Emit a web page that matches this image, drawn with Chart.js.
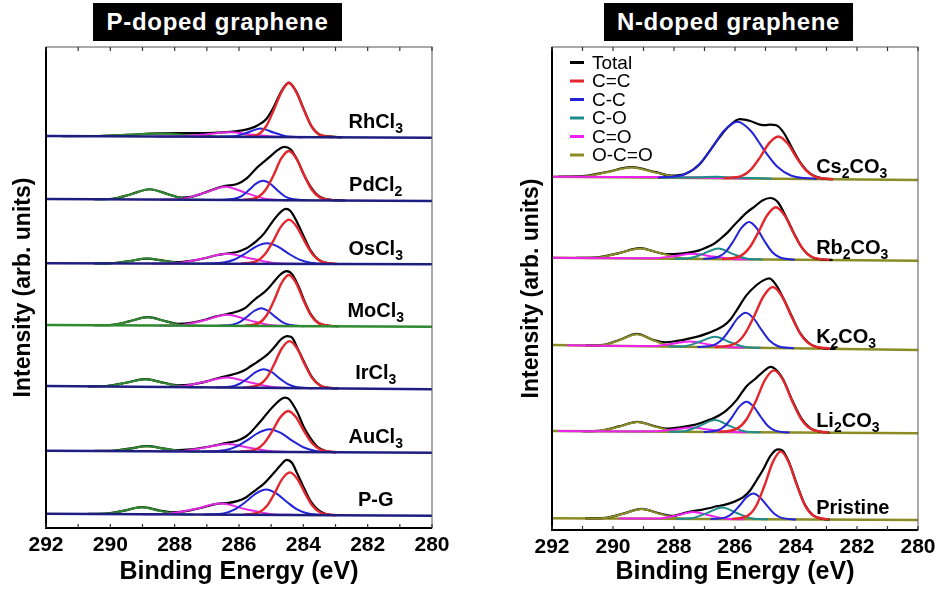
<!DOCTYPE html>
<html>
<head>
<meta charset="utf-8">
<script src="https://cdn.jsdelivr.net/npm/chart.js@4.4.1/dist/chart.umd.min.js"></script>
<style>
  body { margin: 0; background: #fff; width: 950px; height: 602px; position: relative; overflow: hidden; }
  canvas { position: absolute; top: 0; }
  #pChart { left: 0; }
  #nChart { left: 475px; }
  .panel-title {
    position: absolute; top: 3px; height: 38px; width: 249px; z-index: 2;
    background: #000; color: #fff; text-align: center;
    font: bold 24px 'Liberation Sans', Arial, sans-serif; line-height: 38px; letter-spacing: 0.7px;
  }
</style>
</head>
<body>
<canvas id="pChart" width="475" height="602"></canvas>
<canvas id="nChart" width="475" height="602"></canvas>
<div class="panel-title" style="left:93px">P-doped graphene</div>
<div class="panel-title" style="left:604px">N-doped graphene</div>
<script>
// ---- Data: [binding energy (eV), intensity above the spectrum's own baseline] ----

// P-doped graphene (left panel), top to bottom
const pSamples = ['RhCl_3', 'PdCl_2', 'OsCl_3', 'MoCl_3', 'IrCl_3', 'AuCl_3', 'P-G'];
const pBaseLeft = [392, 329, 264.7, 203, 142, 77.3, 14.3];   // stack offset at 292 eV
const pBaseRight = [390.3, 327, 263.7, 201.3, 138.7, 75.3, 12.3]; // stack offset at 280 eV

const rhTotal = [[291.5,0],[290.5,0.2],[289.5,1.5],[288.5,3.1],[287.5,3.5],[286.8,3.9],[286.27,5],[285.9,6.5],[285.64,8.5],[285.4,12],[285.15,18],[284.92,30],[284.68,46],[284.45,54.5],[284.22,45.5],[283.98,27.5],[283.75,11],[283.52,3],[283.2,0.8],[282.8,0]];
const rhSp2 = [[285.85,0],[285.38,3],[285.15,11],[284.92,27],[284.68,45],[284.45,54],[284.22,45],[283.98,27],[283.75,11],[283.52,3],[283.05,0]];
const rhSp3 = [[286.6,0],[286.18,0.5],[285.75,4.2],[285.33,8.5],[284.9,4.2],[284.48,0.5],[284.05,0]];
const rhCdO = [[288.6,0],[287.8,0.3],[287.05,2.2],[286.3,4.5],[285.55,2.2],[284.8,0.3],[284.0,0]];
const rhOCO = [[291.5,0],[290.5,0.2],[289.5,1.5],[288.5,3],[287.5,1.5],[286.5,0.2],[285.5,0]];

const pdTotal = [[290.5,0],[289.93,0.6],[289.36,5.2],[288.78,10.3],[288.2,5.4],[287.8,2.2],[287.5,2.8],[287.1,6.8],[286.7,11.5],[286.42,14],[286.06,16],[285.75,22],[285.44,32.5],[285.22,38.5],[285.02,44],[284.8,50],[284.59,53.3],[284.4,51],[284.19,40.5],[283.98,25.5],[283.78,14],[283.55,5],[283.3,1.5],[283.0,0.3],[282.7,0]];
const pdSp2 = [[285.89,0],[285.41,3],[285.17,10.4],[284.93,24.7],[284.69,41.5],[284.45,49.3],[284.21,41.5],[283.97,24.7],[283.73,10.4],[283.49,3],[283.01,0]];
const pdSp3 = [[286.6,0],[286.15,1.2],[285.92,4],[285.7,9.7],[285.48,16.2],[285.25,19.3],[285.02,16.2],[284.8,9.7],[284.58,4],[284.35,1.2],[283.9,0]];
const pdCdO = [[288.45,0],[287.77,0.8],[287.1,6.7],[286.42,13.3],[285.75,6.7],[285.07,0.8],[284.4,0]];
const pdOCO = [[290.5,0],[289.93,0.6],[289.36,5.2],[288.78,10.3],[288.2,5.2],[287.63,0.6],[287.05,0]];

const osTotal = [[290.5,0],[289.96,0.3],[289.41,2.5],[288.86,5],[288.31,2.8],[287.9,1.5],[287.5,2.8],[287.0,6],[286.7,8.5],[286.37,10.3],[286.06,11.8],[285.8,15],[285.64,18.3],[285.45,23],[285.23,30],[285.05,38],[284.87,46],[284.7,52],[284.55,55],[284.4,53],[284.19,41.5],[283.95,25],[283.78,14],[283.55,5],[283.3,1.2],[283.0,0]];
const osSp2 = [[285.95,0],[285.45,2.7],[285.2,9.3],[284.95,22],[284.7,37],[284.45,44.3],[284.2,37],[283.95,22],[283.7,9.3],[283.45,2.7],[282.95,0]];
const osSp3 = [[287.15,0],[286.48,1.2],[286.14,4.3],[285.8,10.3],[285.47,17.3],[285.13,20.6],[284.79,17.3],[284.46,10.3],[284.12,4.3],[283.78,1.2],[283.1,0]];
const osCdO = [[288.7,0],[287.92,0.6],[287.15,5],[286.37,10],[285.6,5],[284.82,0.6],[284.05,0]];
const osOCO = [[290.5,0],[289.96,0.3],[289.41,2.5],[288.86,5],[288.31,2.5],[287.76,0.3],[287.2,0]];

const moTotal = [[290.5,0],[289.94,0.5],[289.39,4.2],[288.84,8.3],[288.29,4.4],[287.9,1.8],[287.5,2.8],[287.0,6.5],[286.7,9.5],[286.37,11.7],[286.06,14.3],[285.8,18],[285.64,22.7],[285.45,28],[285.23,33.3],[285.05,39],[284.87,46],[284.7,52],[284.52,55],[284.35,52],[284.15,40],[283.95,24],[283.76,11.5],[283.53,3.3],[283.2,0.5],[282.9,0]];
const moSp2 = [[285.83,0],[285.37,3.1],[285.14,10.7],[284.91,25.5],[284.68,42.8],[284.45,51],[284.22,42.8],[283.99,25.5],[283.76,10.7],[283.53,3.1],[283.07,0]];
const moSp3 = [[286.66,0],[286.21,1.1],[285.98,3.7],[285.76,8.9],[285.53,14.9],[285.31,17.7],[285.09,14.9],[284.86,8.9],[284.64,3.7],[284.41,1.1],[283.96,0]];
const moCdO = [[288.47,0],[287.77,0.7],[287.07,5.5],[286.37,11],[285.67,5.5],[284.97,0.7],[284.27,0]];
const moOCO = [[290.5,0],[289.94,0.5],[289.39,4.2],[288.84,8.3],[288.29,4.2],[287.74,0.5],[287.2,0]];

const irTotal = [[290.7,0],[290.12,0.5],[289.52,3.9],[288.92,7.7],[288.32,4.1],[287.9,1.8],[287.5,2.6],[287.0,6],[286.7,9],[286.37,11.7],[286.06,14.3],[285.8,18],[285.64,21.5],[285.45,25.5],[285.23,30.5],[285.05,35.5],[284.87,42],[284.7,48.5],[284.5,52],[284.35,50.5],[284.19,40.5],[283.95,24.5],[283.72,10.7],[283.48,3],[283.2,0.6],[282.9,0]];
const irSp2 = [[285.86,0],[285.38,2.9],[285.14,9.9],[284.91,23.5],[284.67,39.5],[284.43,47],[284.19,39.5],[283.95,23.5],[283.72,9.9],[283.48,2.9],[283.0,0]];
const irSp3 = [[286.73,0],[286.23,1.1],[285.98,3.9],[285.73,9.4],[285.48,15.7],[285.23,18.7],[284.98,15.7],[284.73,9.4],[284.48,3.9],[284.23,1.1],[283.73,0]];
const irCdO = [[288.6,0],[287.87,0.6],[287.12,5],[286.37,10],[285.62,5],[284.87,0.6],[284.1,0]];
const irOCO = [[290.7,0],[290.12,0.5],[289.52,3.9],[288.92,7.7],[288.32,3.9],[287.72,0.5],[287.1,0]];

const auTotal = [[290.5,0],[289.96,0.3],[289.41,2.5],[288.86,5],[288.31,2.7],[287.9,1.2],[287.5,2],[287.0,4.5],[286.7,6.5],[286.37,8.7],[286.06,11],[285.8,15],[285.64,19.3],[285.45,26],[285.23,34.3],[285.05,41.5],[284.87,47.7],[284.7,52.5],[284.58,54.3],[284.45,53],[284.19,40],[283.97,24],[283.78,14],[283.55,5],[283.3,1],[283.0,0]];
const auSp2 = [[285.97,0],[285.47,2.5],[285.22,8.6],[284.97,20.5],[284.72,34.4],[284.47,41],[284.22,34.4],[283.97,20.5],[283.72,8.6],[283.47,2.5],[282.97,0]];
const auSp3 = [[287.15,0],[286.45,1.4],[286.1,4.8],[285.75,11.4],[285.4,19],[285.05,22.7],[284.7,19],[284.35,11.4],[284.0,4.8],[283.65,1.4],[282.95,0]];
const auCdO = [[288.47,0],[287.77,0.5],[287.07,3.9],[286.37,7.7],[285.67,3.9],[284.97,0.5],[284.27,0]];
const auOCO = [[290.5,0],[289.96,0.3],[289.41,2.5],[288.86,5],[288.31,2.5],[287.76,0.3],[287.2,0]];

const pgTotal = [[290.7,0],[290.12,0.4],[289.57,3.5],[289.02,7],[288.47,3.8],[288.1,2],[287.7,3],[287.2,6.5],[286.8,10],[286.58,11.2],[286.37,11.6],[286.06,13.6],[285.8,17],[285.64,21],[285.45,25.5],[285.23,31],[285.05,37],[284.87,43.6],[284.7,50],[284.52,55],[284.35,52],[284.19,41.5],[283.95,25],[283.78,14.3],[283.55,5.5],[283.3,1],[283.0,0]];
const pgSp2 = [[285.85,0],[285.37,2.6],[285.13,9],[284.9,21.3],[284.66,35.8],[284.42,42.6],[284.18,35.8],[283.94,21.3],[283.71,9],[283.47,2.6],[282.99,0]];
const pgSp3 = [[287.1,0],[286.45,1.5],[286.13,5.3],[285.8,12.7],[285.48,21.2],[285.15,25.3],[284.83,21.2],[284.5,12.7],[284.18,5.3],[283.85,1.5],[283.2,0]];
const pgCdO = [[289.0,0],[288.18,0.7],[287.38,5.5],[286.58,11],[285.78,5.5],[284.98,0.7],[284.2,0]];
const pgOCO = [[290.7,0],[290.12,0.4],[289.57,3.5],[289.02,7],[288.47,3.5],[287.92,0.4],[287.4,0]];

// N-doped graphene (right panel), top to bottom
const nSamples = ['Cs_2CO_3', 'Rb_2CO_3', 'K_2CO_3', 'Li_2CO_3', 'Pristine'];
const nBaseLeft = [353.3, 272.3, 185, 99, 11.7];
const nBaseRight = [350, 269.3, 180, 96.7, 10];
const nLegend = ['Total', 'C=C', 'C-C', 'C-O', 'C=O', 'O-C=O'];

const csTotal = [[291.8,0],[291,0.8],[290.2,5.2],[289.4,10.2],[288.6,5.5],[288.1,2.2],[287.6,4.5],[287.15,14],[286.8,28.5],[286.49,41.6],[286.2,52],[285.84,59.3],[285.5,57.5],[285.18,54],[285.0,53.5],[284.85,54],[284.65,53.5],[284.4,46],[284.1,29],[283.85,16],[283.65,8.5],[283.4,3],[283.1,0.5],[282.8,0]];
const csSp2 = [[286.38,0],[285.78,2.5],[285.48,8.9],[285.18,21.2],[284.88,35.5],[284.58,42.3],[284.28,35.5],[283.98,21.2],[283.68,8.9],[283.38,2.5],[282.78,0]];
const csSp3 = [[288.52,0],[287.67,3.4],[287.23,11.9],[286.8,28.3],[286.36,47.5],[285.92,56.6],[285.48,47.5],[285.04,28.3],[284.61,11.9],[284.17,3.4],[283.32,0]];
const csCO = [[288.4,0],[287.2,0.75],[286.6,1.5],[286.0,0.75],[284.8,0]];
const csCdO = [[292,0],[290,0.3],[288.5,0.6],[287,0.3],[285.5,0]];
const csOCO = [[291.8,0],[290.99,0.6],[290.19,5],[289.39,10],[288.59,5],[287.79,0.6],[287.0,0]];

const rbTotal = [[291.2,0],[290.5,0.8],[289.8,5.2],[289.11,10.3],[288.6,6.5],[288.24,4.5],[287.9,4.8],[287.58,6],[287.2,8.3],[286.93,11.6],[286.7,15],[286.49,20],[286.25,26.5],[286.06,33],[285.84,40],[285.62,46.6],[285.35,53],[285.1,59],[284.85,61.5],[284.6,57.5],[284.3,41],[284.07,26.5],[283.87,15],[283.65,6.5],[283.43,2],[283.1,0.3],[282.8,0]];
const rbSp2 = [[286.42,0],[285.83,3.1],[285.54,11],[285.25,26.2],[284.95,44],[284.66,52.3],[284.37,44],[284.07,26.2],[283.78,11],[283.49,3.1],[282.9,0]];
const rbSp3 = [[287.04,0],[286.54,2.3],[286.29,7.8],[286.04,18.7],[285.79,31.3],[285.54,37.3],[285.29,31.3],[285.04,18.7],[284.79,7.8],[284.54,2.3],[284.04,0]];
const rbCO = [[288.0,0],[287.5,0.6],[287.03,5.3],[286.55,10.6],[286.07,5.3],[285.6,0.6],[285.1,0]];
const rbCdO = [[292,0],[289.4,0.1],[288.67,0.4],[288.02,2.5],[287.37,5],[286.72,2.5],[286.07,0.3],[285.4,0]];
const rbOCO = [[291.2,0],[290.51,0.6],[289.81,5],[289.11,10],[288.41,5],[287.71,0.6],[287.0,0]];

const kTotal = [[290.9,0],[290.32,0.8],[289.77,6.2],[289.22,12.2],[288.67,6.3],[288.3,4.2],[287.9,5.8],[287.58,7.8],[287.2,10.6],[286.93,13.5],[286.66,17],[286.38,21.5],[286.15,28],[285.95,37],[285.62,52.5],[285.3,62.5],[285.1,67],[284.88,69.5],[284.65,63],[284.4,49],[284.13,31.5],[283.87,15.5],[283.6,6],[283.35,1.8],[283.0,0.2],[282.7,0]];
const kSp2 = [[286.64,0],[286.01,3.7],[285.7,12.8],[285.39,30.5],[285.07,51.4],[284.76,61],[284.45,51.4],[284.13,30.5],[283.82,12.8],[283.51,3.7],[282.88,0]];
const kSp3 = [[287.23,0],[286.7,2.1],[286.44,7.3],[286.18,17.5],[285.91,29.4],[285.65,35],[285.39,29.4],[285.12,17.5],[284.86,7.3],[284.6,2.1],[284.07,0]];
const kCO = [[288.16,0],[287.66,0.6],[287.16,5.2],[286.66,10.5],[286.16,5.2],[285.66,0.6],[285.16,0]];
const kCdO = [[291.5,0],[289.4,0.1],[288.68,0.4],[288.08,2.7],[287.48,5.5],[286.88,2.7],[286.28,0.3],[285.7,0]];
const kOCO = [[290.9,0],[290.32,0.7],[289.77,6],[289.22,12],[288.67,6],[288.12,0.7],[287.55,0]];

const liTotal = [[291,0],[290.4,0.7],[289.8,5],[289.2,9.7],[288.6,5.2],[288.24,3],[287.8,4.5],[287.42,6.5],[287.15,8.7],[286.9,11.5],[286.71,13.7],[286.5,17],[286.27,22],[285.95,32],[285.8,38.5],[285.62,46],[285.35,53],[285.1,60],[284.83,65.5],[284.6,61],[284.42,53],[284.12,32],[283.82,14],[283.52,4.2],[283.2,1],[282.9,0]];
const liSp2 = [[286.52,0],[285.92,3.8],[285.62,13],[285.32,31],[285.02,52.2],[284.72,62],[284.42,52.2],[284.12,31],[283.82,13],[283.52,3.8],[282.92,0]];
const liSp3 = [[287.03,0],[286.56,1.8],[286.32,6.4],[286.09,15.3],[285.86,25.6],[285.62,30.5],[285.39,25.6],[285.15,15.3],[284.92,6.4],[284.68,1.8],[284.21,0]];
const liCO = [[288.16,0],[287.66,0.7],[287.16,6],[286.66,12],[286.16,6],[285.66,0.7],[285.16,0]];
const liCdO = [[291.8,0],[289.4,0.1],[288.62,0.3],[288.02,2.2],[287.42,4.3],[286.82,2.2],[286.22,0.3],[285.6,0]];
const liOCO = [[291.0,0],[290.4,0.6],[289.8,4.8],[289.2,9.5],[288.6,4.8],[288.0,0.6],[287.4,0]];

const prTotal = [[290.9,0],[290.26,0.7],[289.66,5],[289.06,9.8],[288.46,5.2],[288.02,3],[287.7,5.6],[287.37,7.8],[287.1,9.2],[286.82,11],[286.6,12.8],[286.38,14],[286.06,17],[285.73,22],[285.5,29],[285.29,39],[285.07,50],[284.85,63],[284.6,70],[284.45,69],[284.24,58],[283.97,35],[283.71,15],[283.45,4.5],[283.15,0.8],[282.9,0]];
const prSp2 = [[286.08,0],[285.55,4.2],[285.29,14.3],[285.03,34],[284.76,57.2],[284.5,68],[284.24,57.2],[283.97,34],[283.71,14.3],[283.45,4.2],[282.92,0]];
const prSp3 = [[286.8,0],[286.33,1.5],[286.1,5.4],[285.87,12.9],[285.63,21.6],[285.4,25.7],[285.17,21.6],[284.93,12.9],[284.7,5.4],[284.47,1.5],[284.0,0]];
const prCO = [[287.92,0],[287.42,0.7],[286.92,5.9],[286.42,11.7],[285.92,5.9],[285.42,0.7],[284.92,0]];
const prCdO = [[289.8,0],[288.47,0.4],[287.92,3.5],[287.37,7],[286.82,3.5],[286.27,0.4],[285.7,0]];
const prOCO = [[290.9,0],[290.26,0.6],[289.66,4.9],[289.06,9.7],[288.46,4.9],[287.86,0.6],[287.3,0]];

const pSpectra = [
  [rhTotal, rhSp2, rhSp3, rhCdO, rhOCO],
  [pdTotal, pdSp2, pdSp3, pdCdO, pdOCO],
  [osTotal, osSp2, osSp3, osCdO, osOCO],
  [moTotal, moSp2, moSp3, moCdO, moOCO],
  [irTotal, irSp2, irSp3, irCdO, irOCO],
  [auTotal, auSp2, auSp3, auCdO, auOCO],
  [pgTotal, pgSp2, pgSp3, pgCdO, pgOCO],
];
const nSpectra = [
  [csTotal, csSp2, csSp3, csCO, csCdO, csOCO],
  [rbTotal, rbSp2, rbSp3, rbCO, rbCdO, rbOCO],
  [kTotal, kSp2, kSp3, kCO, kCdO, kOCO],
  [liTotal, liSp2, liSp3, liCO, liCdO, liOCO],
  [prTotal, prSp2, prSp3, prCO, prCdO, prOCO],
];

// ---- Styles ----
const FONT = "'Liberation Sans', Arial, sans-serif";
const NAVY = '#1e1e80';
const GREEN = '#2f8a2f';
const OLIVE = '#8c8c26';
const pStyles = [
  { color: '#000000', width: 2.2, order: 5 }, // Total
  { color: '#e3262b', width: 2.4, order: 1 }, // C=C
  { color: '#2323d8', width: 2, order: 2 },   // C-C
  { color: '#e52ae5', width: 2, order: 3 },   // C=O
  { color: GREEN, width: 2, order: 4 },       // O-C=O
];
const nStyles = [
  { color: '#000000', width: 2.2, order: 6 },
  { color: '#e3262b', width: 2.4, order: 1 },
  { color: '#2323d8', width: 2, order: 2 },
  { color: '#1f8c8c', width: 2, order: 3 },
  { color: '#f020f0', width: 2, order: 4 },
  { color: OLIVE, width: 2, order: 5 },
];
const pBaseColors = [NAVY, NAVY, NAVY, GREEN, NAVY, NAVY, NAVY];

Chart.defaults.font.family = FONT;
Chart.defaults.color = '#000';

// shift a curve onto its (slightly tilted) stack baseline
function onBaseline(points, left, right) {
  return points.map(([e, v]) => ({ x: e, y: left + (right - left) * (292 - e) / 12 + v }));
}

function buildDatasets(spectra, baseL, baseR, styles, baseColors, baseOrder) {
  const sets = [];
  spectra.forEach((curves, i) => {
    curves.forEach((pts, k) => {
      sets.push({
        data: onBaseline(pts, baseL[i], baseR[i]),
        borderColor: styles[k].color,
        borderWidth: styles[k].width,
        order: styles[k].order,
        pointRadius: 0,
        fill: false,
        cubicInterpolationMode: 'monotone',
      });
    });
    sets.push({
      data: onBaseline([[292, 0], [280, 0]], baseL[i], baseR[i]),
      borderColor: baseColors[i],
      borderWidth: 2.4,
      order: baseOrder,
      pointRadius: 0,
      fill: false,
    });
  });
  return sets;
}

// chemical formula with subscript digits, e.g. 'Cs_2CO_3'
function drawFormula(ctx, text, px, py, align) {
  const parts = text.split(/_(\d)/);
  const mainFont = 'bold 20px ' + FONT;
  const subFont = 'bold 14px ' + FONT;
  let width = 0;
  parts.forEach((p, j) => { ctx.font = j % 2 ? subFont : mainFont; width += ctx.measureText(p).width; });
  let cx = align === 'center' ? px - width / 2 : px;
  ctx.fillStyle = '#000';
  ctx.textAlign = 'left';
  ctx.textBaseline = 'alphabetic';
  parts.forEach((p, j) => {
    ctx.font = j % 2 ? subFont : mainFont;
    ctx.fillText(p, cx, j % 2 ? py + 5 : py);
    cx += ctx.measureText(p).width;
  });
}

// frame, inward ticks, sample names and (optional) legend
function panelDecor(labels, labelE, labelRise, baseL, baseR, align, legend) {
  return {
    id: 'panelDecor',
    afterDatasetsDraw(chart) {
      const { ctx, chartArea: a, scales: { x, y } } = chart;
      ctx.save();
      ctx.strokeStyle = '#555';
      ctx.lineWidth = 1;
      ctx.strokeRect(a.left, a.top, a.right - a.left, a.bottom - a.top);
      ctx.strokeStyle = '#000';
      ctx.lineWidth = 2;
      ctx.beginPath();
      ctx.moveTo(a.left, a.top);
      ctx.lineTo(a.left, a.bottom);
      ctx.lineTo(a.right, a.bottom);
      ctx.stroke();

      ctx.lineWidth = 1.2;
      ctx.strokeStyle = '#333';
      for (let e = 280; e <= 292; e++) {
        const px = x.getPixelForValue(e);
        ctx.beginPath();
        ctx.moveTo(px, a.bottom);
        ctx.lineTo(px, a.bottom - 4);
        ctx.moveTo(px, a.top);
        ctx.lineTo(px, a.top + 4);
        ctx.stroke();
      }

      labels.forEach((name, i) => {
        const base = baseL[i] + (baseR[i] - baseL[i]) * (292 - labelE) / 12;
        drawFormula(ctx, name, x.getPixelForValue(labelE), y.getPixelForValue(base + labelRise), align);
      });

      if (legend) {
        ctx.font = '19px ' + FONT;
        ctx.textBaseline = 'middle';
        ctx.textAlign = 'left';
        legend.names.forEach((n, k) => {
          const ly = a.top + 15.5 + k * 18.5;
          ctx.strokeStyle = legend.colors[k];
          ctx.lineWidth = 3;
          ctx.beginPath();
          ctx.moveTo(a.left + 18, ly);
          ctx.lineTo(a.left + 32, ly);
          ctx.stroke();
          ctx.fillStyle = '#000';
          ctx.fillText(n, a.left + 40, ly + 1);
        });
      }
      ctx.restore();
    },
  };
}

function makeOptions(yMax, yWidth, xHeight, yTitlePad, padRight) {
  return {
    responsive: false,
    animation: false,
    devicePixelRatio: 1,
    parsing: false,
    layout: { padding: { top: 47, right: padRight, left: 0, bottom: 0 } },
    plugins: { legend: { display: false }, tooltip: { enabled: false } },
    scales: {
      x: {
        type: 'linear', min: 280, max: 292, reverse: true,
        afterFit: (s) => { s.height = xHeight; },
        grid: { display: false, drawTicks: false },
        border: { display: false },
        ticks: { stepSize: 2, padding: 5, maxRotation: 0, font: { size: 21, weight: 'bold' } },
        title: {
          display: true, text: 'Binding Energy (eV)',
          font: { size: 25, weight: 'bold', lineHeight: 1 },
          padding: { top: 0, bottom: 17 },
        },
      },
      y: {
        type: 'linear', min: 0, max: yMax,
        afterFit: (s) => { s.width = yWidth; },
        grid: { display: false, drawTicks: false },
        border: { display: false },
        ticks: { display: false },
        title: {
          display: true, text: 'Intensity (arb. units)',
          font: { size: 23, weight: 'bold', lineHeight: 1 },
          padding: { top: 12.5, bottom: 0 },
        },
      },
    },
  };
}

function initCharts() {
  // eslint-disable-next-line no-undef
  new Chart(document.getElementById('pChart'), {
    type: 'line',
    data: { datasets: buildDatasets(pSpectra, pBaseLeft, pBaseRight, pStyles, pBaseColors, 0) },
    options: makeOptions(481, 46, 74, 12.5, 43),
    plugins: [panelDecor(pSamples, 281.75, 9.5, pBaseLeft, pBaseRight, 'center', null)],
  });

  const nOptions = makeOptions(483, 77, 72, 45, 32);
  nOptions.scales.y.title.padding.top = 45;
  // eslint-disable-next-line no-undef
  new Chart(document.getElementById('nChart'), {
    type: 'line',
    data: { datasets: buildDatasets(nSpectra, nBaseLeft, nBaseRight, nStyles, nSpectra.map(() => OLIVE), 7) },
    options: nOptions,
    plugins: [panelDecor(nSamples, 283.34, 6, nBaseLeft, nBaseRight, 'left',
      { names: nLegend, colors: nStyles.map((s) => s.color) })],
  });
}

document.addEventListener('DOMContentLoaded', initCharts);
</script>
</body>
</html>
